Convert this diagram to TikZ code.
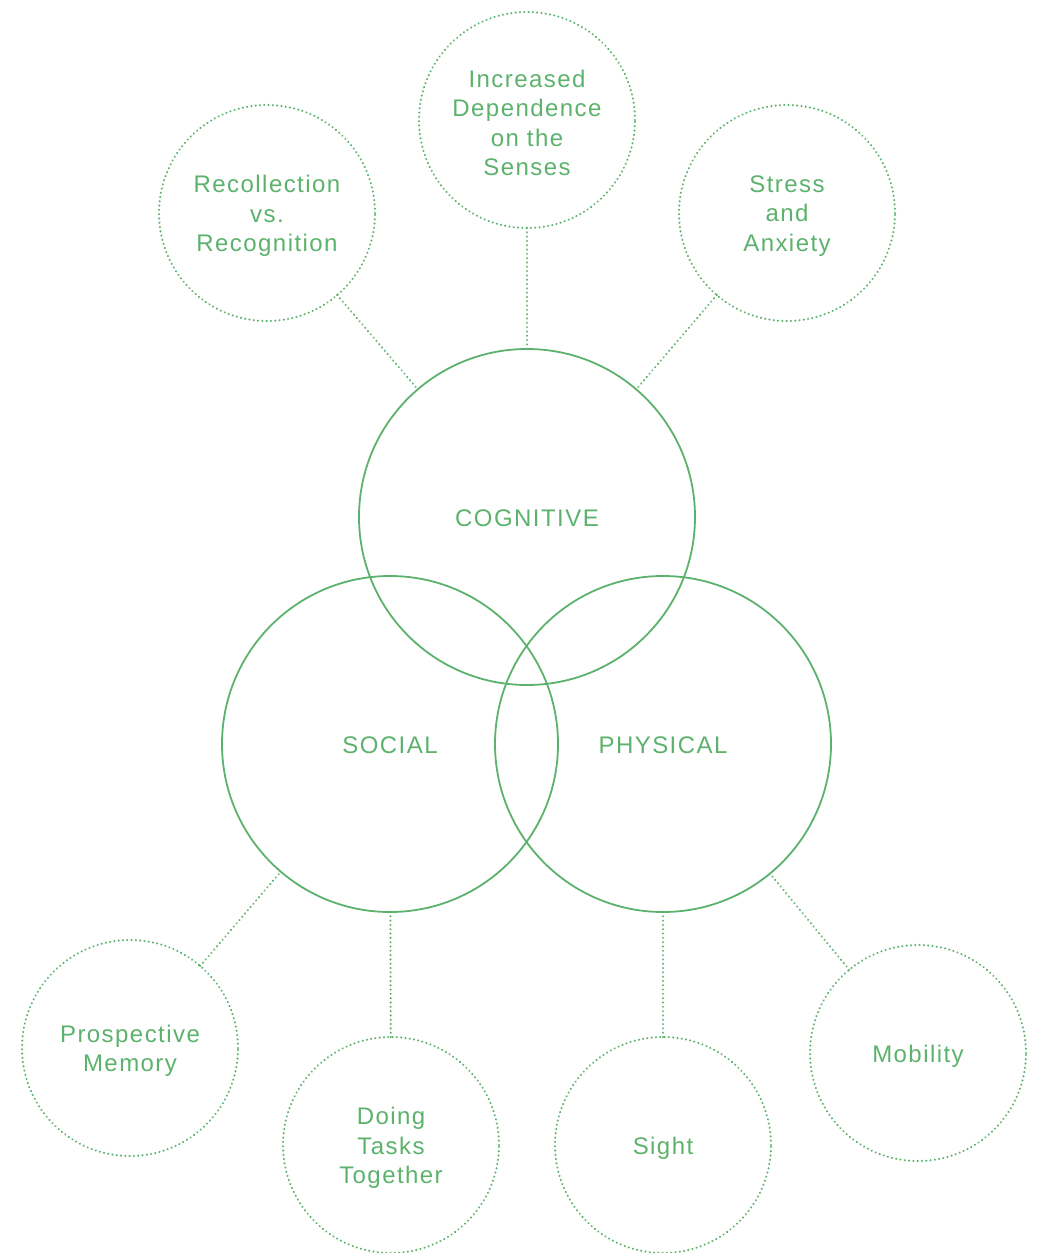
\documentclass[tikz,border=0pt]{standalone}
\usepackage{fontspec}
\setmainfont{Liberation Sans}[LetterSpace=6]
\definecolor{gr}{RGB}{92,178,108}
\tikzset{
  lab/.style={text=gr,align=center,font=\fontsize{24}{29.5}\selectfont,yshift=-3pt,inner sep=0pt},
  big/.style={circle,draw=gr,line width=1.8pt,minimum size=336pt,inner sep=0pt,outer sep=0pt},
  small/.style={circle,draw=gr,line width=2.3pt,dash pattern=on 0.01pt off 4.3pt,line cap=round,minimum size=216pt,inner sep=0pt,outer sep=0pt},
  dotline/.style={draw=gr,line width=2.3pt,dash pattern=on 0.01pt off 4.3pt,line cap=round}
}
\begin{document}
\begin{tikzpicture}[x=1pt,y=-1pt]
\useasboundingbox (0,0) rectangle (1041,1253);
\node[big,label={[lab,yshift=2pt]center:COGNITIVE}] (cog) at (527,517) {};
\node[big,label={[lab,yshift=2pt]center:SOCIAL}] (soc) at (390,744) {};
\node[big,label={[lab,yshift=2pt]center:PHYSICAL}] (phy) at (663,744) {};
\node[small,label={[lab]center:Recollection\\vs.\\Recognition}] (rec) at (267,213) {};
\node[small,label={[lab]center:Increased\\Dependence\\on the\\Senses}] (inc) at (527,120) {};
\node[small,label={[lab]center:Stress\\and\\Anxiety}] (str) at (787,213) {};
\node[small,label={[lab]center:Prospective\\Memory}] (pro) at (130,1048) {};
\node[small,label={[lab]center:Doing\\Tasks\\Together}] (doi) at (391,1145) {};
\node[small,label={[lab]center:Sight}] (sig) at (663,1145) {};
\node[small,label={[lab]center:Mobility}] (mob) at (918,1053) {};
\draw[dotline] (rec) -- (cog);
\draw[dotline] (inc) -- (cog);
\draw[dotline] (str) -- (cog);
\draw[dotline] (pro) -- (soc);
\draw[dotline] (doi) -- (soc);
\draw[dotline] (sig) -- (phy);
\draw[dotline] (mob) -- (phy);
\end{tikzpicture}
\end{document}
